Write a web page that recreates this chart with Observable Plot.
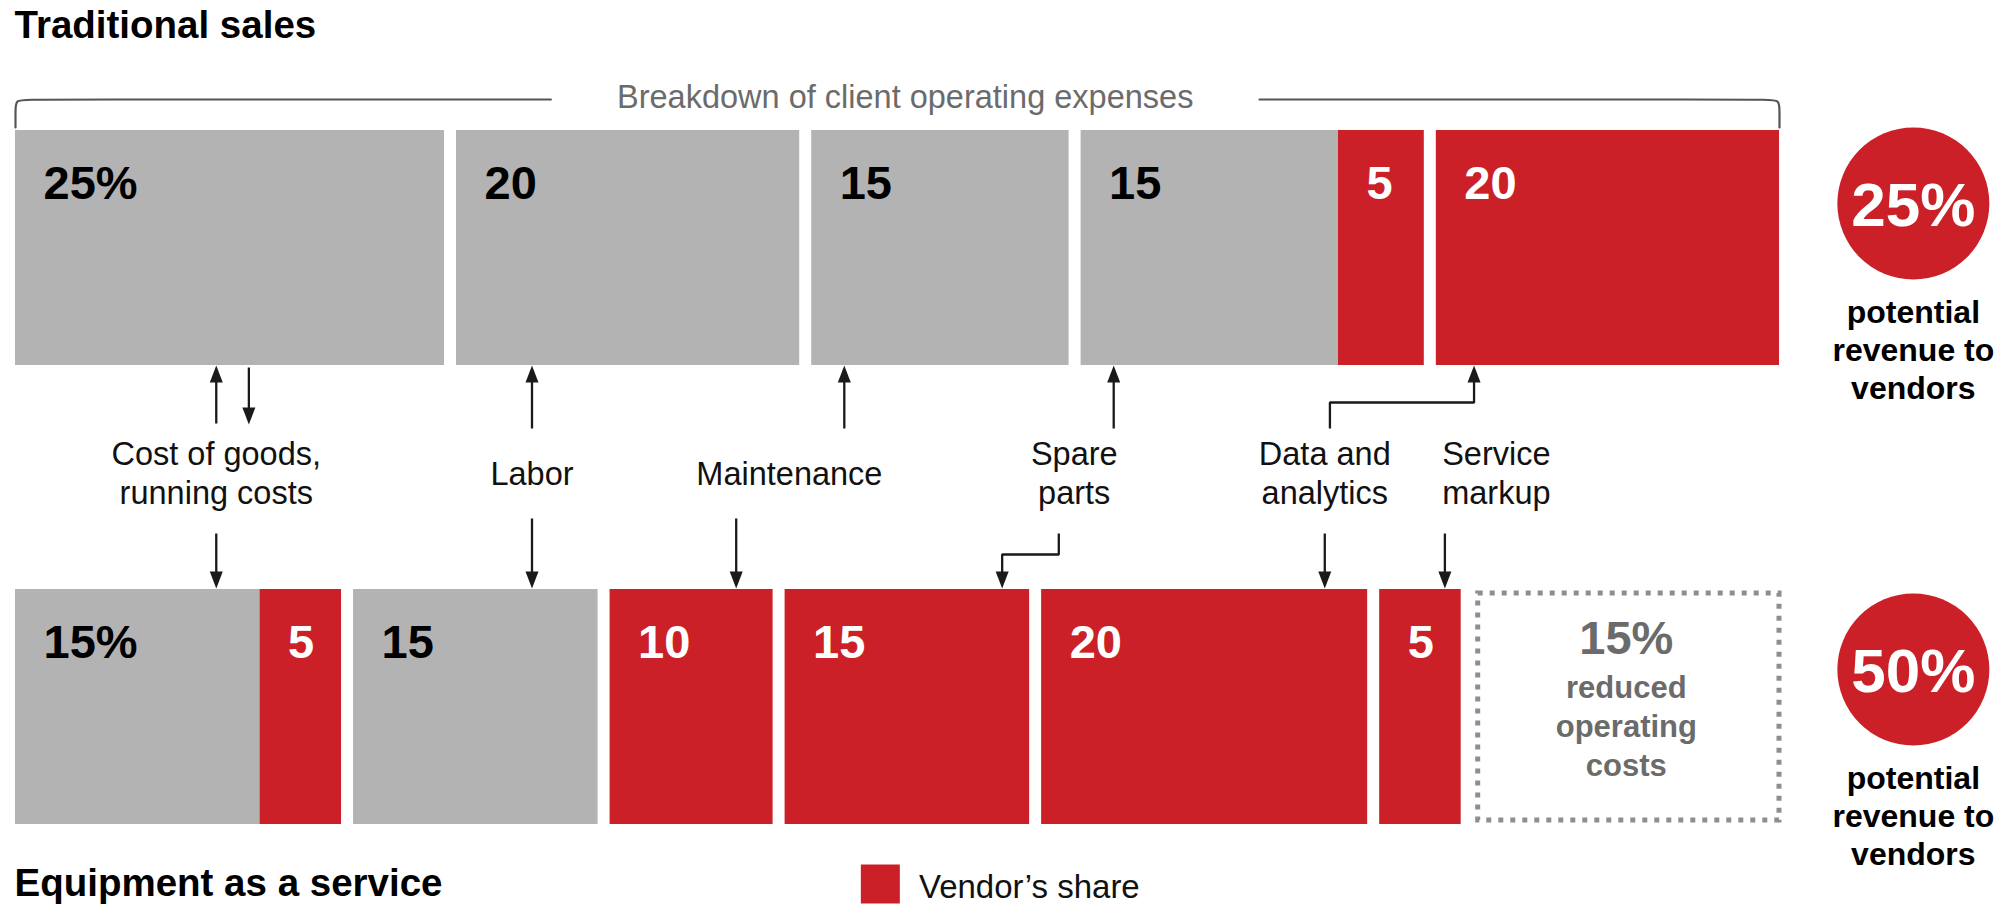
<!DOCTYPE html>
<html>
<head>
<meta charset="utf-8">
<script src="https://cdn.jsdelivr.net/npm/d3@7"></script>
<script src="https://cdn.jsdelivr.net/npm/@observablehq/plot@0.6"></script>
<style>
  html, body { margin: 0; padding: 0; background: #fff; }
  #chart { width: 2012px; height: 921px; }
</style>
</head>
<body>
<div id="chart"></div>
<script>
// ---------------- data ----------------
const rows = ["Traditional sales", "Equipment as a service"];
const tradValues = [25, 20, 15, 15, 5, 20];
const tradVendor = [false, false, false, false, true, true];
const tradGroup  = [0, 1, 2, 3, 3, 4];
const eaasValues = [15, 5, 15, 10, 15, 20, 5];
const eaasVendor = [false, true, false, true, true, true, true];
const eaasGroup  = [0, 0, 1, 2, 3, 4, 5];
const reducedCost = 15;
const vendorRevenue = [25, 50];
const categories = ["Cost of goods,\nrunning costs", "Labor", "Maintenance", "Spare\nparts", "Data and\nanalytics", "Service\nmarkup"];
const bracketLabel = "Breakdown of client operating expenses";
const circleCaption = ["potential", "revenue to", "vendors"];
const reducedCaption = ["reduced", "operating", "costs"];
const legendLabel = "Vendor’s share";

// ---------------- layout / style ----------------
const RED = "#cb2027", GRAY = "#b3b3b3", INK = "#1a1a1a", DIM = "#6b6b6b";
const FONT = "'Liberation Sans', Arial, Helvetica, sans-serif";
const GAP = 0.7;          // gap between blocks, in x units
const EAAS_K = 0.95;      // bottom row is drawn slightly narrower per unit
const ROW_Y = {"Traditional sales": [130, 365], "Equipment as a service": [589, 824]};
const CIRCLE_Y = [203, 669];
const LABEL_X = [11.7, 30.1, 45.1, 61.7, 76.3, 86.3];
const LABEL_MID = 484, LABEL_LINE = 39;

function buildRow(row, values, vendor, group, k) {
  let cum = 0;
  return values.map((v, i) => {
    const x1 = k * cum + group[i] * GAP;
    cum += v;
    const [y1, y2] = ROW_Y[row];
    return {row, value: v, share: vendor[i] ? "vendor" : "client",
            x1, x2: k * cum + group[i] * GAP, y1, y2,
            label: i === 0 ? `${v}%` : `${v}`};
  });
}
const trad = buildRow(rows[0], tradValues, tradVendor, tradGroup, 1);
const eaas = buildRow(rows[1], eaasValues, eaasVendor, eaasGroup, EAAS_K);
const segs = trad.concat(eaas);
const xMax = trad[trad.length - 1].x2;
const box = {x1: eaas[eaas.length - 1].x2 + GAP, x2: xMax, y1: ROW_Y[rows[1]][0], y2: ROW_Y[rows[1]][1]};
const CIRCLE_X = xMax + 7.8;

// arrows: polylines in (x units, y px); last point is the tip
const arrowDefs = [
  [[11.7, 423], [11.7, 365]],
  [[13.6, 367], [13.6, 424]],
  [[30.1, 428], [30.1, 365]],
  [[48.3, 428], [48.3, 365]],
  [[64.0, 428], [64.0, 365]],
  [[76.6, 428], [76.6, 402], [85.0, 402], [85.0, 365]],
  [[11.7, 533], [11.7, 588]],
  [[30.1, 518], [30.1, 588]],
  [[42.0, 518], [42.0, 588]],
  [[60.8, 533], [60.8, 554], [57.5, 554], [57.5, 588]],
  [[76.3, 533], [76.3, 588]],
  [[83.3, 533], [83.3, 588]]
];
const shaftPts = [], heads = [];
arrowDefs.forEach((pts, i) => {
  const n = pts.length;
  const [tx, ty] = pts[n - 1];
  const [px, py] = pts[n - 2];
  const down = ty > py;
  pts.forEach((p, j) => {
    const y = j === n - 1 ? (down ? ty - 10 : ty + 10) : p[1];
    shaftPts.push({id: i, x: p[0], y});
  });
  heads.push({x: tx, y: ty, down});
});
const headUp = {draw(ctx) { ctx.moveTo(0, 0); ctx.lineTo(-6.5, 17); ctx.lineTo(6.5, 17); ctx.closePath(); }};
const headDown = {draw(ctx) { ctx.moveTo(0, 0); ctx.lineTo(-6.5, -17); ctx.lineTo(6.5, -17); ctx.closePath(); }};
const squareSym = {draw(ctx) { ctx.rect(-19.5, -19.5, 39, 39); }};

// category label lines
const labelLines = [];
categories.forEach((c, i) => {
  const lines = c.split("\n");
  const first = LABEL_MID - (lines.length - 1) * LABEL_LINE / 2;
  lines.forEach((t, j) => labelLines.push({x: LABEL_X[i], y: first + j * LABEL_LINE, text: t}));
});

// bracket
const BR_Y = 99, BR_BOT = 127, R = 0.7, RP = 12;
const bracketL = [{x: 0, y: BR_BOT}, {x: 0, y: BR_Y + RP}, {x: 0, y: BR_Y}, {x: R, y: BR_Y}, {x: 31.2, y: BR_Y}];
const bracketR = [{x: 72.5, y: BR_Y}, {x: xMax - R, y: BR_Y}, {x: xMax, y: BR_Y}, {x: xMax, y: BR_Y + RP}, {x: xMax, y: BR_BOT}];

// circle captions
const circles = vendorRevenue.map((v, i) => ({x: CIRCLE_X, y: CIRCLE_Y[i], label: `${v}%`}));
const circleCaps = [];
circles.forEach(c => circleCaption.forEach((t, j) => circleCaps.push({x: c.x, y: c.y + 119 + j * 38, text: t})));

const boxMid = (box.x1 + box.x2) / 2;
const boxLines = reducedCaption.map((t, j) => ({x: boxMid, y: 697 + j * 39, text: t}));

const chart = Plot.plot({
  width: 2012,
  height: 921,
  marginTop: 0, marginRight: 0, marginBottom: 0, marginLeft: 0,
  x: {domain: [0, xMax], range: [15, 1779], axis: null},
  y: {domain: [0, 921], range: [0, 921], axis: null},
  color: {domain: ["client", "vendor"], range: [GRAY, RED]},
  style: {fontFamily: FONT, background: "#fff", overflow: "visible"},
  marks: [
    // titles
    Plot.text([rows[0]], {x: 0, y: 37, text: d => d, textAnchor: "start", lineAnchor: "bottom", dx: -1, fontSize: 38.5, fontWeight: "bold", fill: "#000"}),
    Plot.text([rows[1]], {x: 0, y: 895, text: d => d, textAnchor: "start", lineAnchor: "bottom", dx: -1, fontSize: 38.5, fontWeight: "bold", fill: "#000"}),
    // bracket
    Plot.line(bracketL, {x: "x", y: "y", curve: "basis", stroke: "#555", strokeWidth: 2.2}),
    Plot.line(bracketR, {x: "x", y: "y", curve: "basis", stroke: "#555", strokeWidth: 2.2}),
    Plot.text([bracketLabel], {x: (31.2 + 72.5) / 2, y: 107, text: d => d, lineAnchor: "bottom", fontSize: 32.5, fill: DIM}),
    // bars
    Plot.rect(segs, {x1: "x1", x2: "x2", y1: "y1", y2: "y2", fill: "share"}),
    Plot.text(segs, {x: "x1", y: d => d.y1 + 68, text: "label", textAnchor: "start", lineAnchor: "bottom", dx: 28,
      fontSize: 47, fontWeight: "bold", fill: d => d.share === "vendor" ? "#fff" : "#000"}),
    // reduced cost box
    Plot.rect([box], {x1: "x1", x2: "x2", y1: "y1", y2: "y2", fill: "none", stroke: "#8e8e8e", strokeWidth: 5,
      strokeDasharray: "5,7", insetLeft: 5, insetTop: 4, insetBottom: 4}),
    Plot.text([`${reducedCost}%`], {x: boxMid, y: 653, text: d => d, lineAnchor: "bottom", fontSize: 47, fontWeight: "bold", fill: DIM}),
    Plot.text(boxLines, {x: "x", y: "y", text: "text", lineAnchor: "bottom", fontSize: 31, fontWeight: "bold", fill: DIM}),
    // arrows
    Plot.line(shaftPts, {x: "x", y: "y", z: "id", stroke: INK, strokeWidth: 2.3, strokeLinejoin: "miter", strokeLinecap: "butt"}),
    Plot.dot(heads.filter(d => !d.down), {x: "x", y: "y", symbol: headUp, fill: INK, stroke: "none"}),
    Plot.dot(heads.filter(d => d.down), {x: "x", y: "y", symbol: headDown, fill: INK, stroke: "none"}),
    // category labels
    Plot.text(labelLines, {x: "x", y: "y", text: "text", lineAnchor: "bottom", fontSize: 32.5, fill: "#111"}),
    // vendor revenue circles
    Plot.dot(circles, {x: "x", y: "y", r: 76, fill: RED, stroke: "none"}),
    Plot.text(circles, {x: "x", y: d => d.y + 22, text: "label", lineAnchor: "bottom", fontSize: 62, fontWeight: "bold", fill: "#fff"}),
    Plot.text(circleCaps, {x: "x", y: "y", text: "text", lineAnchor: "bottom", fontSize: 32, fontWeight: "bold", fill: "#000"}),
    // legend
    Plot.dot([legendLabel], {x: 50.4, y: 883.5, symbol: squareSym, fill: RED, stroke: "none"}),
    Plot.text([legendLabel], {x: 52.65, y: 897, text: d => d, textAnchor: "start", lineAnchor: "bottom", fontSize: 33, fill: "#111"})
  ]
});
document.getElementById("chart").appendChild(chart);
</script>
</body>
</html>
